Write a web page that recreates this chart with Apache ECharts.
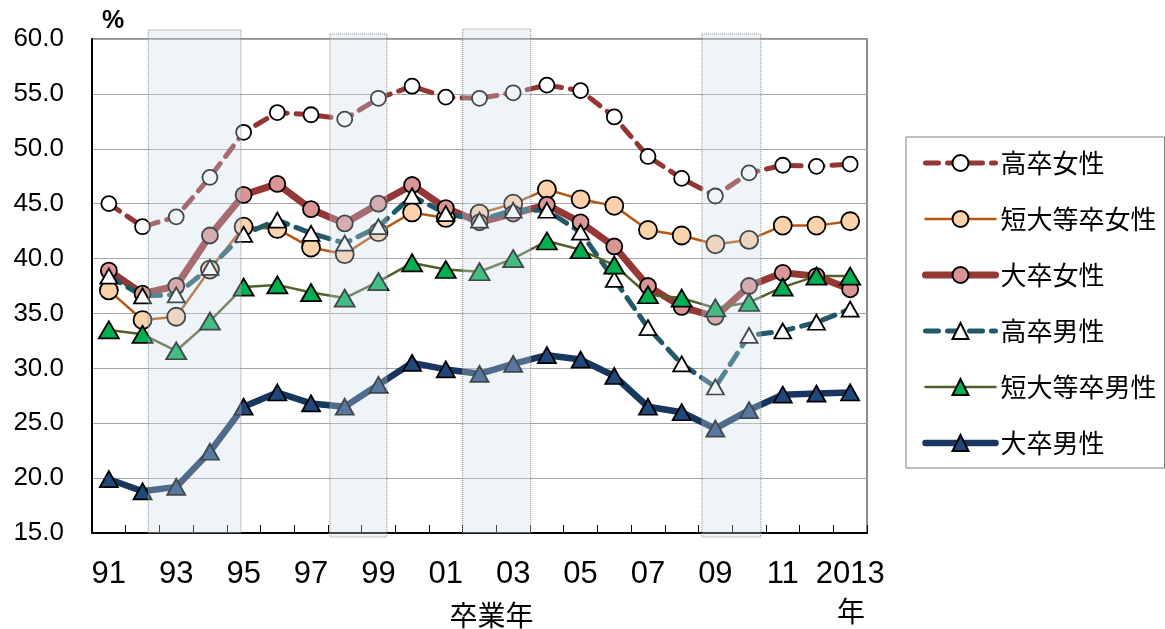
<!DOCTYPE html>
<html><head><meta charset="utf-8">
<script src="https://cdn.jsdelivr.net/npm/echarts@6/dist/echarts.min.js"></script>
<style>html,body{margin:0;padding:0;background:#fff}#c{width:1165px;height:629px}</style>
</head><body><div id="c"></div>
<script>
// ---- data ----
const years = ['91','92','93','94','95','96','97','98','99','00','01','02','03','04','05','06','07','08','09','10','11','12','2013'];
const seriesNames = ['高卒女性','短大等卒女性','大卒女性','高卒男性','短大等卒男性','大卒男性'];
const hsFemale   = [45.0,42.9,43.8,47.4,51.5,53.3,53.1,52.7,54.6,55.7,54.7,54.6,55.1,55.8,55.3,52.9,49.3,47.3,45.7,47.8,48.5,48.4,48.6];
const jcFemale   = [37.1,34.4,34.7,39.0,42.9,42.7,41.0,40.4,42.4,44.2,43.7,44.1,45.0,46.3,45.4,44.8,42.6,42.1,41.3,41.7,43.0,43.0,43.4];
const univFemale = [38.9,36.8,37.5,42.1,45.8,46.8,44.5,43.2,45.0,46.7,44.6,43.3,44.1,44.9,43.3,41.1,37.5,35.6,34.7,37.5,38.7,38.4,37.2];
const hsMale     = [38.4,36.6,36.7,39.2,42.2,43.5,42.3,41.4,42.9,45.7,44.1,43.5,44.4,44.4,42.4,38.1,33.7,30.4,28.3,33.0,33.4,34.2,35.4];
const jcMale     = [33.5,33.1,31.6,34.3,37.4,37.6,36.9,36.4,37.9,39.6,39.0,38.8,40.0,41.6,40.8,39.4,36.7,36.4,35.5,36.0,37.4,38.4,38.4];
const univMale   = [19.9,18.8,19.2,22.4,26.5,27.8,26.8,26.5,28.5,30.5,29.9,29.5,30.4,31.2,30.8,29.3,26.5,26.0,24.5,26.2,27.6,27.7,27.8];
// recession bands (graduation-year scale)
const bands = [[1992.17,1994.92],[1997.56,1999.25],[2001.5,2003.52],[2008.6,2010.35]];
const yTicks = [15,20,25,30,35,40,45,50,55,60];

// ---- styles ----
const narrow = '"Liberation Sans Narrow","Liberation Sans",Arial,sans-serif';
const jp = '"Noto Sans CJK JP",sans-serif';
// vertical extent of each shaded band inside the (slightly taller) overlay grid, 0..1
const bandTopFrac = [0.998, 0.99, 1.0, 0.99];
const bandBottomFrac = [0.008, 0.0, 0.008, 0.0];

function lineSeries(name, data, lineColor, width, dash, symbol, size, fill) {
  return {
    name, type: 'line', data, z: 2,
    symbol, symbolSize: size,
    lineStyle: { color: lineColor, width, type: dash || 'solid', cap: 'round', join: 'round' },
    itemStyle: { color: fill, borderColor: '#000', borderWidth: 1.8 },
    emphasis: { disabled: true }
  };
}

const chart = echarts.init(document.getElementById('c'), null, { renderer: 'canvas' });
chart.setOption({
  animation: false,
  backgroundColor: '#fff',
  grid: [
    { left: 92, right: 298, top: 39, bottom: 96, containLabel: false, outerBoundsMode: 'none',
      show: true, borderColor: '#8c8c8c', borderWidth: 2, backgroundColor: 'transparent' },
    { left: 92, right: 298, top: 29, bottom: 92, containLabel: false, outerBoundsMode: 'none', show: false }
  ],
  legend: {
    data: seriesNames,
    orient: 'vertical', left: 906, top: 137,
    padding: [13, 8, 12, 16],
    itemWidth: 70, itemHeight: 20, itemGap: 30,
    borderColor: '#7f7f7f', borderWidth: 1, backgroundColor: '#fff',
    lineStyle: { width: 'inherit' },
    textStyle: { fontFamily: jp, fontSize: 26, color: '#000', lineHeight: 20 }
  },
  xAxis: [{
    type: 'category', data: years, boundaryGap: true, gridIndex: 0,
    name: '卒業年', nameLocation: 'middle', nameGap: 68,
    nameTextStyle: { fontFamily: jp, fontSize: 28, color: '#000', padding: [0, 0, 0, 24] },
    axisLine: { lineStyle: { color: '#000', width: 2 } },
    axisTick: { show: true, inside: true, length: 8, interval: 0, lineStyle: { color: '#000', width: 1 } },
    axisLabel: { interval: 1, margin: 26, fontFamily: narrow, fontSize: 31, color: '#000' },
    splitLine: { show: false }
  }, {
    type: 'value', gridIndex: 1, min: 1990.5, max: 2013.5, show: false
  }],
  yAxis: [{
    type: 'value', gridIndex: 0, min: 15, max: 60, interval: 5,
    axisLine: { show: true, lineStyle: { color: '#000', width: 2 } },
    axisTick: { show: false },
    axisLabel: { margin: 28, fontFamily: '"Liberation Sans",Arial,sans-serif', fontSize: 26, color: '#000',
      formatter: v => yTicks.indexOf(v) >= 0 ? v.toFixed(1) : '' },
    splitLine: { lineStyle: { color: '#a6a6a6', width: 1 } }
  }, {
    type: 'value', gridIndex: 1, min: 0, max: 1, show: false
  }],
  graphic: [
    { type: 'text', left: 102, top: 9, style: { text: '%', font: 'bold 25px "Liberation Sans",Arial', fill: '#000' } },
    { type: 'text', left: 837, top: 597, style: { text: '年', font: '28px "Noto Sans CJK JP"', fill: '#000' } }
  ],
  series: [
    lineSeries(seriesNames[0], hsFemale,   '#943634', 5,   [13, 9], 'circle',   15,       '#ffffff'),
    lineSeries(seriesNames[1], jcFemale,   '#b6580f', 2.5, null,    'circle',   18,       '#fcd2aa'),
    lineSeries(seriesNames[2], univFemale, '#953735', 7,   null,    'circle',   16,       '#d99694'),
    lineSeries(seriesNames[3], hsMale,     '#215968', 5,   [13, 9], 'triangle', [17, 15], '#ffffff'),
    lineSeries(seriesNames[4], jcMale,     '#4f6228', 2.5, null,    'triangle', [20, 17], '#00b050'),
    lineSeries(seriesNames[5], univMale,   '#17375e', 6.5, null,    'triangle', [18, 16], '#1f497d'),
    {
      name: 'bands', type: 'line', xAxisIndex: 1, yAxisIndex: 1, data: [], silent: true,
      markArea: {
        silent: true, z: 20,
        itemStyle: { color: 'rgba(206,221,235,0.32)', borderColor: '#8a8a8a', borderWidth: 1, borderType: 'dotted' },
        label: { show: false },
        data: bands.map((b, i) => [{ xAxis: b[0], yAxis: bandTopFrac[i] }, { xAxis: b[1], yAxis: bandBottomFrac[i] }])
      }
    }
  ]
});
</script>
</body></html>
